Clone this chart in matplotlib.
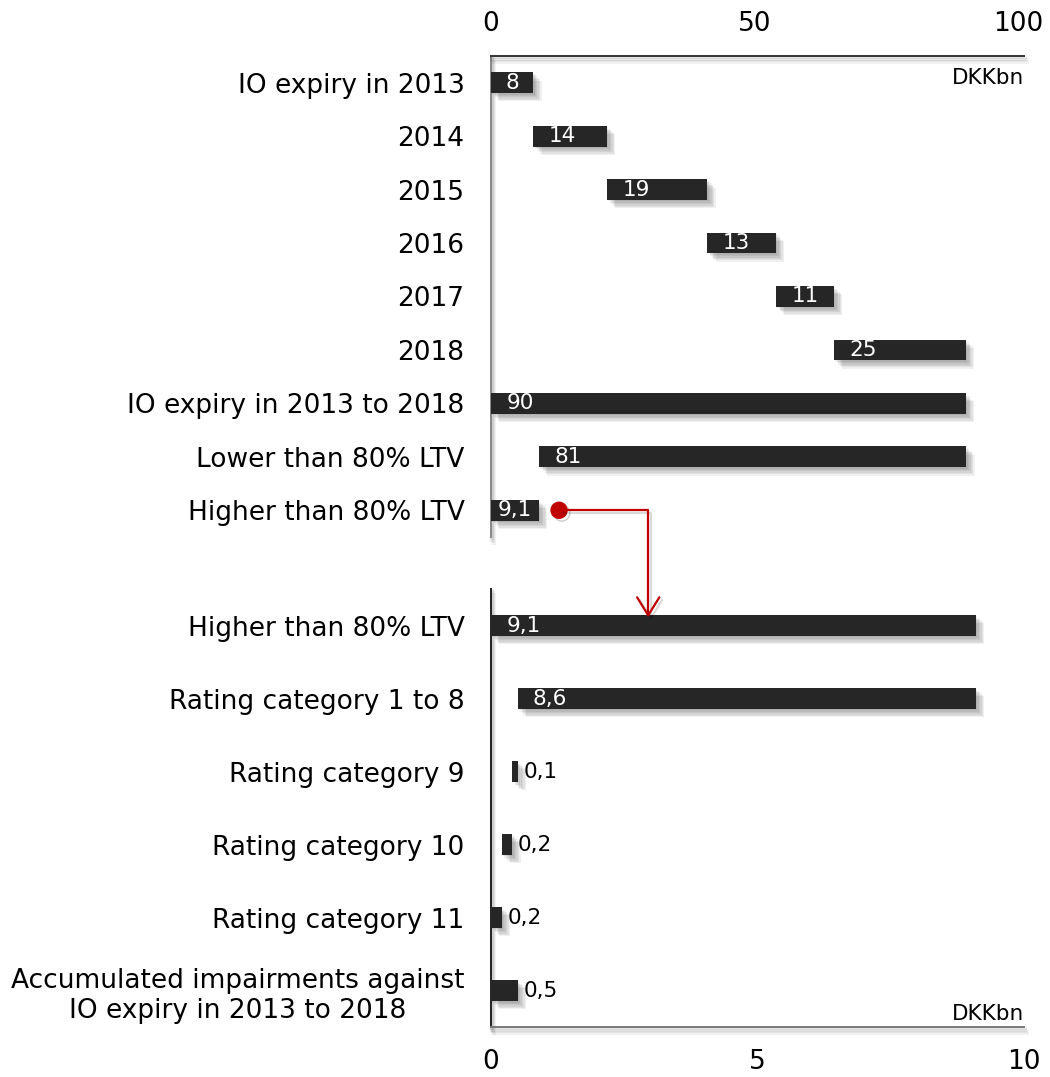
"""IO loans: expiry waterfall (DKKbn) and rating split of the high-LTV part."""
import matplotlib
matplotlib.use("Agg")
import matplotlib.pyplot as plt
import matplotlib.patheffects as pe
from matplotlib.patches import ConnectionPatch

# upper panel: IO expiry waterfall, DKKbn
top_labels = [
    "IO expiry in 2013", "2014", "2015", "2016", "2017", "2018",
    "IO expiry in 2013 to 2018", "Lower than 80% LTV", "Higher than 80% LTV",
]
top_starts = [0, 8, 22, 41, 54, 65, 0, 9.1, 0]
top_values = [8, 14, 19, 13, 11, 25, 90, 81, 9.1]
top_ticks = [0, 50, 100]

# lower panel: the >80% LTV slice split by rating category, DKKbn
bot_labels = [
    "Higher than 80% LTV", "Rating category 1 to 8", "Rating category 9",
    "Rating category 10", "Rating category 11",
    "Accumulated impairments against\nIO expiry in 2013 to 2018",
]
bot_starts = [0, 0.5, 0.4, 0.2, 0, 0]
bot_values = [9.1, 8.6, 0.1, 0.2, 0.2, 0.5]
bot_ticks = [0, 5, 10]

BAR = "#262626"
RED = "#c00000"
FS = 19

plt.rcParams["font.family"] = "DejaVu Sans"


def shadow(n=6, alpha=0.06):
    fx = [pe.SimplePatchShadow(offset=(d, -d), shadow_rgbFace="k", alpha=alpha)
          for d in range(1, n + 1)]
    return fx + [pe.Normal()]


def line_shadow(n=4, alpha=0.05):
    fx = [pe.SimpleLineShadow(offset=(d * 0.5, -d), shadow_color="k", alpha=alpha,
                              linewidth=3)
          for d in range(1, n + 1)]
    return fx + [pe.Normal()]


def fmt(v):
    return f"{v:g}".replace(".", ",")


def draw_panel(ax, labels, starts, values, height, inside_min, center_max):
    ys = range(len(labels))
    bars = ax.barh(ys, values, left=starts, height=height, color=BAR, zorder=3)
    for b in bars:
        b.set_path_effects(shadow())
    kw = dict(va="center", fontsize=15.5, zorder=4, textcoords="offset points")
    for y, s, v in zip(ys, starts, values):
        if v < inside_min:
            # too thin for the value, put it after the bar end
            ax.annotate(fmt(v), (s + v, y), xytext=(4, 0), ha="left",
                        color="black", **kw)
        elif v < center_max:
            ax.annotate(fmt(v), (s + v / 2, y), xytext=(0, 0), ha="center",
                        color="white", **kw)
        else:
            ax.annotate(fmt(v), (s, y), xytext=(11, 0), ha="left",
                        color="white", **kw)
    ax.set_yticks(list(ys))
    ax.set_yticklabels(labels, fontsize=FS)
    for t in ax.get_yticklabels():
        t.set_multialignment("center")
    ax.set_ylim(len(labels) - 0.5, -0.5)
    ax.tick_params(axis="y", length=0, pad=19, labelsize=FS)
    ax.set_facecolor("white")


fig = plt.figure(figsize=(10.5, 10.77), dpi=100)
ax_top = fig.add_axes([0.4676, 0.5014, 0.5076, 0.4466])
ax_bot = fig.add_axes([0.4676, 0.0464, 0.5076, 0.4067])

draw_panel(ax_top, top_labels, top_starts, top_values, 0.39, 3, 10)
ax_top.set_xlim(0, 101)
ax_top.set_xticks(top_ticks)
ax_top.xaxis.tick_top()
ax_top.tick_params(axis="x", length=0, pad=14, labelsize=FS)
ax_top.spines[["right", "bottom"]].set_visible(False)
ax_top.spines["top"].set_color("#333333")
ax_top.spines["left"].set_color("#888888")
ax_top.text(1.0, 0.975, "DKKbn", transform=ax_top.transAxes, ha="right", va="top",
            fontsize=15.5)

draw_panel(ax_bot, bot_labels, bot_starts, bot_values, 0.29, 1, 0)
ax_bot.set_xlim(0, 10)
ax_bot.set_xticks(bot_ticks)
ax_bot.tick_params(axis="x", length=0, pad=16, labelsize=FS)
ax_bot.spines[["right", "top"]].set_visible(False)
ax_bot.spines["left"].set_color("#222222")
ax_bot.spines["bottom"].set_color("#777777")
ax_bot.text(1.0, 0.008, "DKKbn", transform=ax_bot.transAxes, ha="right", va="bottom",
            fontsize=15.5)

for ax in (ax_top, ax_bot):
    for sp in ax.spines.values():
        sp.set_linewidth(1.4)
        sp.set_path_effects(line_shadow())

# link from the >80% LTV bar in the upper panel down to its breakdown
ax_top.plot(12.9, 8, "o", color=RED, markersize=11.5, zorder=5,
            path_effects=[pe.SimpleLineShadow(offset=(2, -2), alpha=0.2), pe.Normal()])
link = ConnectionPatch(
    xyA=(12.9, 8), coordsA=ax_top.transData,
    xyB=(2.95, -0.11), coordsB=ax_bot.transData,
    arrowstyle="->,head_length=1.3,head_width=0.8",
    connectionstyle="angle,angleA=0,angleB=90,rad=0",
    color=RED, linewidth=1.6, shrinkA=0, shrinkB=0, zorder=5,
)
link.set_path_effects([pe.SimpleLineShadow(offset=(2, -2), alpha=0.15), pe.Normal()])
fig.add_artist(link)

fig.savefig("out.png", dpi=100, facecolor="white")
